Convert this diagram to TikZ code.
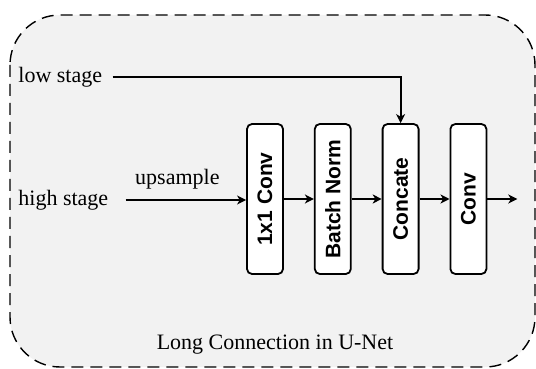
\documentclass[tikz,border=0pt]{standalone}
\usepackage{fontspec}
\setmainfont{Liberation Serif}
\setsansfont{Liberation Sans}
\newfontfamily\timesface{Liberation Serif}
\usepackage{xcolor}
\usepackage{tikz}
\usetikzlibrary{arrows.meta,positioning,calc}

\definecolor{panelgray}{HTML}{F2F2F2}

\begin{document}
\begin{tikzpicture}[
  block/.style={rectangle, draw, line width=0.9pt, rounded corners=2.5pt, fill=white, minimum width=18pt, minimum height=75pt, inner sep=0pt},
  blocktext/.style={font=\fontsize{10.5}{12}\selectfont\sffamily\bfseries, rotate=90},
  label/.style={font=\timesface\fontsize{11}{13}\selectfont, inner sep=0pt},
  flow/.style={-{Stealth[length=4.5pt, width=4.5pt, inset=1.3pt]}, line width=1pt}
]
\useasboundingbox (0,0) rectangle (268pt,-184.5pt);

% dashed panel
\draw[dash pattern=on 6pt off 3.5pt, line width=0.7pt, fill=panelgray, rounded corners=25pt]
  (5pt,-7.5pt) rectangle (267.5pt,-183.5pt);

\node[block] (conv1) at (132.5pt,-99.5pt) {};
\node[blocktext] at (conv1) {1x1 Conv};

\node[block, right=15pt of conv1] (bn) {};
\node[blocktext] at (bn) {Batch Norm};

\node[block, right=15pt of bn] (cat) {};
\node[blocktext] at (cat) {Concate};

\node[block, right=15pt of cat] (conv) {};
\node[blocktext] at (conv) {Conv};

\node[label, anchor=west] (high) at (9pt,-100pt) {high stage};
\node[label, anchor=west] (low) at (9pt,-38.5pt) {low stage};

\draw[flow, shorten <=8.5pt] (high.east) -- node[label, above=5pt] (up) {upsample} (conv1.west |- high.east);
\draw[flow] (conv1) -- (bn);
\draw[flow] (bn) -- (cat);
\draw[flow] (cat) -- (conv);

\coordinate (out) at ($(conv.east)+(15pt,0)$);
\draw[flow] (conv) -- (out);

\draw[flow, shorten <=5pt] (low.east) -| (cat.north);

\node[label] (title) at (137.5pt,-172.5pt) {Long Connection in U-Net};

\end{tikzpicture}
\end{document}
